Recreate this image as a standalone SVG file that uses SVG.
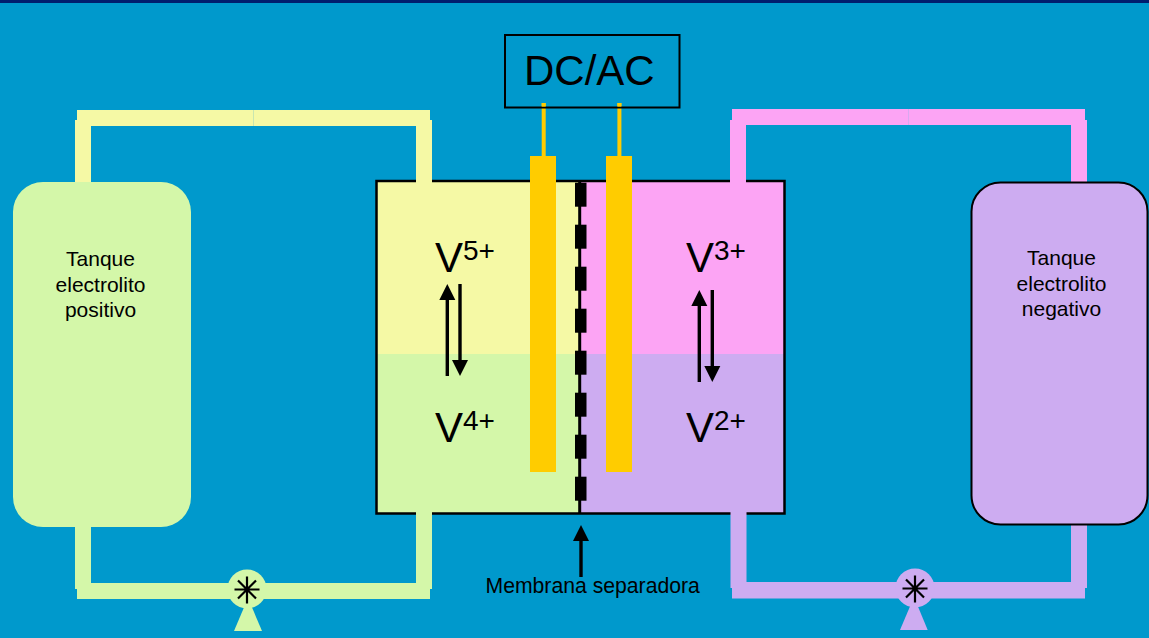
<svg xmlns="http://www.w3.org/2000/svg" width="1149" height="638" viewBox="0 0 1149 638">
<style>
text{font-family:"Liberation Sans",Arial,sans-serif;fill:#000}
.lbl{font-size:21px;text-anchor:middle}
.big{font-size:42px}
.sup{font-size:28px}
.y{fill:#f5f9a5}.g{fill:#d4f7a9}.p{fill:#fca4f4}.u{fill:#cdacf1}.o{fill:#ffcc00}
.k{fill:#000}
.ln{stroke:#000;stroke-width:3.4;fill:none}
.st{stroke:#000;stroke-width:2.2;fill:none}
</style>
<defs>
<path id="star" class="st" d="M0-13V14M-12.500 0H12.500M-9 -9L9 9M-9 9L9 -9"/>
</defs>
<rect width="1149" height="638" fill="#0099cc"/>
<rect width="1149" height="3" fill="#001e6e"/>
<g id="connectors">
<g id="pipe-top-left" class="y"><rect x="77" y="110" width="353" height="16"/><rect x="75" y="120" width="16" height="63"/><rect x="416" y="120" width="16" height="63"/><rect x="253" y="110" width="1" height="16" fill="#c8e6b0"/></g>
<g id="pipe-bottom-left" class="g"><rect x="77" y="583" width="353" height="16"/><rect x="75" y="526" width="16" height="63"/><rect x="416" y="512" width="16" height="77"/></g>
<g id="pipe-top-right" class="p"><rect x="732" y="109" width="353" height="16"/><rect x="730" y="120" width="16" height="63"/><rect x="1071" y="120" width="16" height="63"/><rect x="908" y="109" width="1" height="16" fill="#d8a8f0"/></g>
<g id="pipe-bottom-right" class="u"><rect x="732" y="582" width="353" height="16.500"/><rect x="730.500" y="512" width="16" height="76"/><rect x="1071" y="524" width="16" height="64"/></g>
</g>
<g id="tank-positive">
<rect class="g" x="13" y="182" width="178" height="345" rx="30"/>
<text class="lbl" x="100.500" y="266">Tanque</text>
<text class="lbl" x="100.500" y="292">electrolito</text>
<text class="lbl" x="100.500" y="317">positivo</text>
</g>
<g id="tank-negative">
<rect class="u" x="971.500" y="182.500" width="176" height="342" rx="29" stroke="#000" stroke-width="2"/>
<text class="lbl" x="1061.500" y="265">Tanque</text>
<text class="lbl" x="1061.500" y="291">electrolito</text>
<text class="lbl" x="1061.500" y="316">negativo</text>
</g>
<g id="cell">
<rect class="y" x="376" y="181" width="204" height="173"/>
<rect class="g" x="376" y="354" width="204" height="159"/>
<rect class="p" x="580" y="181" width="204" height="173"/>
<rect class="u" x="580" y="354" width="204" height="159"/>
<rect x="376.500" y="181" width="408" height="332.500" fill="none" stroke="#000" stroke-width="2.500"/>
<rect class="y" x="416" y="170" width="16" height="13"/>
<rect class="g" x="416" y="505" width="16" height="10"/>
<rect class="p" x="730" y="170" width="16" height="13"/>
<rect class="u" x="730.500" y="505" width="16" height="10"/>
</g>
<g id="electrodes" class="o">
<rect x="530" y="156" width="26" height="316"/>
<rect x="606" y="156" width="26" height="316"/>
<rect x="541.700" y="103" width="4" height="54"/>
<rect x="617.400" y="103" width="4" height="54"/>
</g>
<g id="converter">
<rect x="505" y="35" width="174.500" height="72.500" fill="none" stroke="#000" stroke-width="2"/>
<rect class="o" x="541.700" y="103" width="4" height="3.500"/>
<rect class="o" x="617.400" y="103" width="4" height="3.500"/>
<text x="524" y="85" font-size="42">DC/AC</text>
</g>
<g id="membrane">
<rect class="k" x="578.200" y="180" width="3" height="334"/>
<rect class="k" x="575" y="182.700" width="11.500" height="24"/>
<rect class="k" x="575" y="224.700" width="11.500" height="24"/>
<rect class="k" x="575" y="266.700" width="11.500" height="24"/>
<rect class="k" x="575" y="308.700" width="11.500" height="24"/>
<rect class="k" x="575" y="350.700" width="11.500" height="24"/>
<rect class="k" x="575" y="392.700" width="11.500" height="24"/>
<rect class="k" x="575" y="434.700" width="11.500" height="24"/>
<rect class="k" x="575" y="476.700" width="11.500" height="24"/>
</g>
<g id="v5"><text class="big" x="435" y="272">V</text><text class="sup" x="463" y="260">5+</text></g>
<g id="v4"><text class="big" x="435" y="442">V</text><text class="sup" x="463" y="430">4+</text></g>
<g id="v3"><text class="big" x="686" y="272">V</text><text class="sup" x="714" y="260">3+</text></g>
<g id="v2"><text class="big" x="686" y="442">V</text><text class="sup" x="714" y="430">2+</text></g>
<g id="reaction-arrows">
<path class="ln" d="M447.300 376V296"/><path class="k" d="M447.300 284L455.300 300H439.300Z"/>
<path class="ln" d="M460 284V364"/><path class="k" d="M460 376L452 360H468Z"/>
<path class="ln" d="M699.300 382V302"/><path class="k" d="M699.300 290L707.300 306H691.300Z"/>
<path class="ln" d="M712.300 290V370"/><path class="k" d="M712.300 382L704.300 366H720.300Z"/>
</g>
<g id="membrane-label">
<path class="ln" d="M581 577V536"/><path class="k" d="M581 525L589 541H573Z"/>
<text x="485.500" y="593" font-size="21.200">Membrana separadora</text>
</g>
<g id="pump-left">
<path class="g" d="M248 598L262 631H234Z"/>
<circle class="g" cx="247" cy="589" r="19.500"/>
<use href="#star" x="247" y="589.500"/>
</g>
<g id="pump-right">
<path class="u" d="M914 597L927.700 630H900Z"/>
<circle class="u" cx="915" cy="588" r="19.500"/>
<use href="#star" x="915" y="588.500"/>
</g>
</svg>
